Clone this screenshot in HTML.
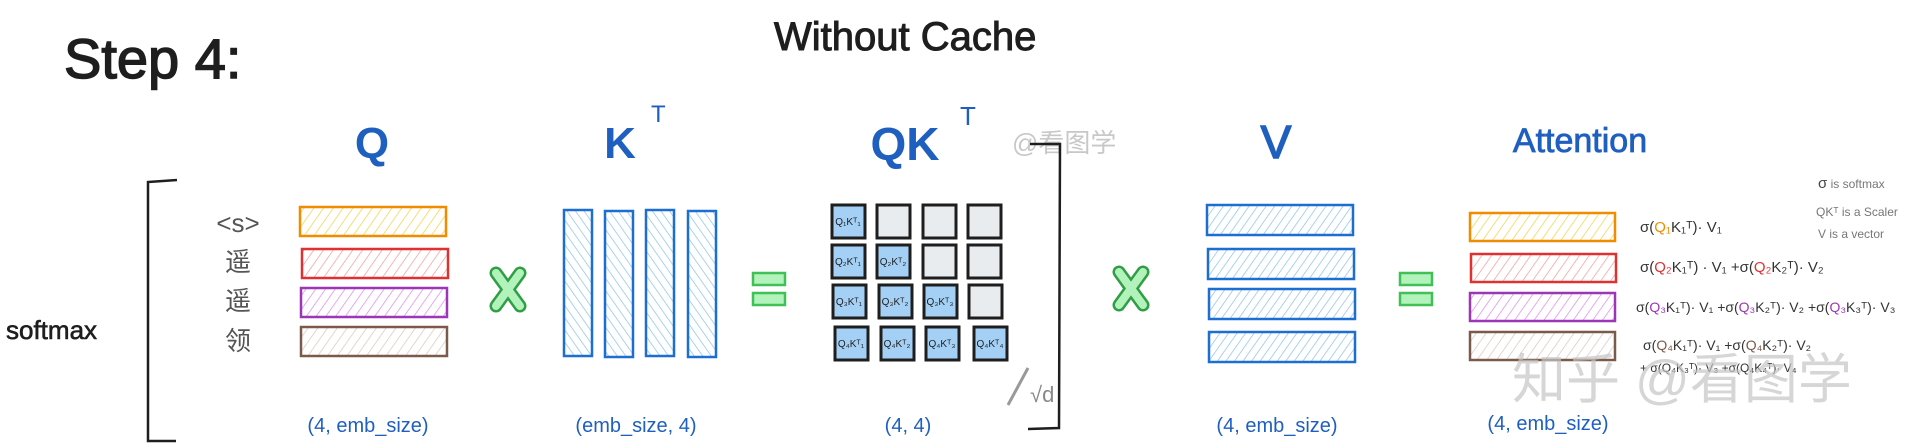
<!DOCTYPE html>
<html><head><meta charset="utf-8"><style>
html,body{margin:0;padding:0;background:#fff;}
svg{display:block;}
text{font-family:"Liberation Sans","Noto Sans CJK SC",sans-serif;}
</style></head><body>
<svg width="1911" height="448" viewBox="0 0 1911 448" xmlns="http://www.w3.org/2000/svg">
<defs>
<pattern id="hy" width="8" height="8" patternUnits="userSpaceOnUse" patternTransform="rotate(35)"><line x1="0" y1="0" x2="0" y2="8" stroke="#f7d24a" stroke-width="1.5"/></pattern>
<pattern id="hr" width="8" height="8" patternUnits="userSpaceOnUse" patternTransform="rotate(35)"><line x1="0" y1="0" x2="0" y2="8" stroke="#f4a0a0" stroke-width="1.5"/></pattern>
<pattern id="hp" width="8" height="8" patternUnits="userSpaceOnUse" patternTransform="rotate(35)"><line x1="0" y1="0" x2="0" y2="8" stroke="#e08ef0" stroke-width="1.5"/></pattern>
<pattern id="hb" width="8" height="8" patternUnits="userSpaceOnUse" patternTransform="rotate(35)"><line x1="0" y1="0" x2="0" y2="8" stroke="#dcc8c0" stroke-width="1.5"/></pattern>
<pattern id="hl" width="7" height="7" patternUnits="userSpaceOnUse" patternTransform="rotate(35)"><line x1="0" y1="0" x2="0" y2="7" stroke="#8fc3ee" stroke-width="1.5"/></pattern>
<pattern id="hk" width="7" height="7" patternUnits="userSpaceOnUse" patternTransform="rotate(-35)"><line x1="0" y1="0" x2="0" y2="7" stroke="#8fc3ee" stroke-width="1.5"/></pattern>
</defs>

<text x="64" y="78" font-size="56" fill="#1e1e1e" stroke="#1e1e1e" stroke-width="1.5">Step 4:</text>
<text x="774" y="50" font-size="40" fill="#1e1e1e" stroke="#1e1e1e" stroke-width="1">Without Cache</text>

<g fill="#1f5fbf" font-weight="bold">
<text x="372" y="158" font-size="44" text-anchor="middle">Q</text>
<text x="620" y="158" font-size="44" text-anchor="middle">K</text>
<text x="651" y="122" font-size="24" font-weight="normal">T</text>
<text x="905" y="160" font-size="46" text-anchor="middle">QK</text>
<text x="960" y="125" font-size="26" font-weight="normal">T</text>
<text x="1276" y="158" font-size="46" text-anchor="middle" font-weight="normal" stroke="#1f5fbf" stroke-width="1.5">V</text>
<text x="1580" y="152" font-size="34" text-anchor="middle" font-weight="normal" stroke="#1f5fbf" stroke-width="0.8">Attention</text>
</g>
<text x="1012" y="152" font-size="26" fill="#c8c8c8">@看图学</text>

<path d="M177 180 L148 182 L148 441 L176 441" fill="none" stroke="#1e1e1e" stroke-width="2.5"/>
<text x="6" y="339" font-size="26" fill="#1e1e1e" stroke="#1e1e1e" stroke-width="0.6">softmax</text>
<g font-size="26" fill="#555" text-anchor="middle">
<text x="238" y="232">&lt;s&gt;</text>
<text x="238" y="271">遥</text>
<text x="238" y="310">遥</text>
<text x="238" y="350">领</text>
</g>

<rect x="300" y="207" width="146" height="29" fill="url(#hy)" stroke="#f08c00" stroke-width="2.5"/>
<rect x="302" y="249" width="146" height="29" fill="url(#hr)" stroke="#e03131" stroke-width="2.5"/>
<rect x="301" y="288" width="146" height="29" fill="url(#hp)" stroke="#9c36b5" stroke-width="2.5"/>
<rect x="301" y="327" width="146" height="29" fill="url(#hb)" stroke="#7c5a4a" stroke-width="2.5"/>

<g stroke="#2f9e44" stroke-width="13" stroke-linecap="round"><line x1="496" y1="273" x2="520" y2="306"/><line x1="520" y1="273" x2="496" y2="306"/></g>
<g stroke="#b2f2bb" stroke-width="8" stroke-linecap="round"><line x1="496" y1="273" x2="520" y2="306"/><line x1="520" y1="273" x2="496" y2="306"/></g>

<g stroke="#1c6fd0" stroke-width="2.5" fill="url(#hk)">
<rect x="564" y="210" width="28" height="146"/>
<rect x="605" y="211" width="28" height="146"/>
<rect x="646" y="210" width="28" height="146"/>
<rect x="688" y="211" width="28" height="146"/>
</g>

<rect x="753" y="273" width="32" height="12" fill="#b2f2bb" stroke="#40c057" stroke-width="2.5"/>
<rect x="753" y="293" width="32" height="12" fill="#b2f2bb" stroke="#40c057" stroke-width="2.5"/>

<g stroke="#1e1e1e" stroke-width="3">
<rect x="832" y="205" width="33" height="33" fill="#a5d0f5"/>
<rect x="877" y="205" width="33" height="33" fill="#e9ecef"/>
<rect x="923" y="205" width="33" height="33" fill="#e9ecef"/>
<rect x="968" y="205" width="33" height="33" fill="#e9ecef"/>
<rect x="832" y="245" width="33" height="33" fill="#a5d0f5"/>
<rect x="877" y="245" width="33" height="33" fill="#a5d0f5"/>
<rect x="923" y="245" width="33" height="33" fill="#e9ecef"/>
<rect x="968" y="245" width="33" height="33" fill="#e9ecef"/>
<rect x="833" y="285" width="33" height="33" fill="#a5d0f5"/>
<rect x="879" y="285" width="33" height="33" fill="#a5d0f5"/>
<rect x="924" y="285" width="33" height="33" fill="#a5d0f5"/>
<rect x="969" y="285" width="33" height="33" fill="#e9ecef"/>
<rect x="835" y="327" width="33" height="33" fill="#a5d0f5"/>
<rect x="881" y="327" width="33" height="33" fill="#a5d0f5"/>
<rect x="926" y="327" width="33" height="33" fill="#a5d0f5"/>
<rect x="974" y="327" width="33" height="33" fill="#a5d0f5"/>
</g>
<g font-size="10" fill="#1e1e1e" text-anchor="middle">
<text x="848" y="225">Q₁Kᵀ₁</text>
<text x="848" y="265">Q₂Kᵀ₁</text><text x="893" y="265">Q₂Kᵀ₂</text>
<text x="849" y="305">Q₃Kᵀ₁</text><text x="895" y="305">Q₃Kᵀ₂</text><text x="940" y="305">Q₃Kᵀ₃</text>
<text x="851" y="347">Q₄Kᵀ₁</text><text x="897" y="347">Q₄Kᵀ₂</text><text x="942" y="347">Q₄Kᵀ₃</text><text x="990" y="347">Q₄Kᵀ₄</text>
</g>
<line x1="1008" y1="405" x2="1028" y2="368" stroke="#999" stroke-width="3"/>
<text x="1030" y="402" font-size="22" fill="#888">√d</text>
<path d="M1030 144 L1060 144 L1059 428 L1028 429" fill="none" stroke="#1e1e1e" stroke-width="2.5"/>

<g stroke="#2f9e44" stroke-width="13" stroke-linecap="round"><line x1="1119" y1="272" x2="1143" y2="305"/><line x1="1143" y1="272" x2="1119" y2="305"/></g>
<g stroke="#b2f2bb" stroke-width="8" stroke-linecap="round"><line x1="1119" y1="272" x2="1143" y2="305"/><line x1="1143" y1="272" x2="1119" y2="305"/></g>

<g stroke="#1c6fd0" stroke-width="2.5" fill="url(#hl)">
<rect x="1207" y="205" width="146" height="30"/>
<rect x="1208" y="249" width="146" height="30"/>
<rect x="1209" y="289" width="146" height="30"/>
<rect x="1209" y="332" width="146" height="30"/>
</g>

<rect x="1400" y="273" width="32" height="12" fill="#b2f2bb" stroke="#40c057" stroke-width="2.5"/>
<rect x="1400" y="293" width="32" height="12" fill="#b2f2bb" stroke="#40c057" stroke-width="2.5"/>

<rect x="1470" y="213" width="145" height="28" fill="url(#hy)" stroke="#f08c00" stroke-width="2.5"/>
<rect x="1471" y="254" width="145" height="28" fill="url(#hr)" stroke="#e03131" stroke-width="2.5"/>
<rect x="1470" y="293" width="145" height="28" fill="url(#hp)" stroke="#9c36b5" stroke-width="2.5"/>
<rect x="1470" y="332" width="145" height="28" fill="url(#hb)" stroke="#7c5a4a" stroke-width="2.5"/>

<g font-size="15" fill="#333">
<text x="1640" y="232">σ(<tspan fill="#f08c00">Q₁</tspan>K₁ᵀ)· V₁</text>
<text x="1640" y="272">σ(<tspan fill="#e03131">Q₂</tspan>K₁ᵀ) · V₁ +σ(<tspan fill="#e03131">Q₂</tspan>K₂ᵀ)· V₂</text>
<text x="1636" y="312" font-size="14">σ(<tspan fill="#9c36b5">Q₃</tspan>K₁ᵀ)· V₁ +σ(<tspan fill="#9c36b5">Q₃</tspan>K₂ᵀ)· V₂ +σ(<tspan fill="#9c36b5">Q₃</tspan>K₃ᵀ)· V₃</text>
<text x="1643" y="350" font-size="14">σ(<tspan fill="#7c5a4a">Q₄</tspan>K₁ᵀ)· V₁ +σ(<tspan fill="#7c5a4a">Q₄</tspan>K₂ᵀ)· V₂</text>
<text x="1640" y="372" font-size="12">+ σ(Q₄K₃ᵀ)· V₃ +σ(Q₄K₄ᵀ)· V₄</text>
</g>
<g font-size="12" fill="#777">
<text x="1818" y="188"><tspan font-size="15" fill="#444">σ</tspan> is softmax</text>
<text x="1816" y="216">QKᵀ is a Scaler</text>
<text x="1818" y="238">V is a vector</text>
</g>

<g font-size="20" fill="#1f5fbf" text-anchor="middle">
<text x="368" y="432">(4, emb_size)</text>
<text x="636" y="432">(emb_size, 4)</text>
<text x="908" y="432">(4, 4)</text>
<text x="1277" y="432">(4, emb_size)</text>
<text x="1548" y="430">(4, emb_size)</text>
</g>

<text x="1512" y="398" font-size="54" fill="#c4c4c4" fill-opacity="0.7">知乎 @看图学</text>
</svg>
</body></html>
